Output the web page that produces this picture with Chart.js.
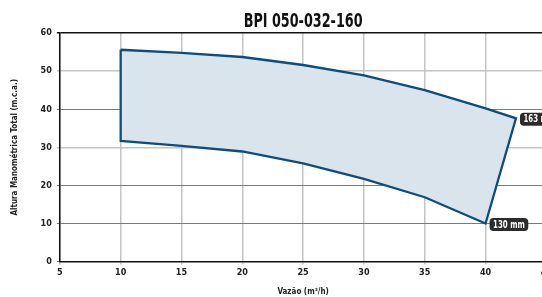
<!DOCTYPE html>
<html>
<head>
<meta charset="utf-8">
<script src="https://cdn.jsdelivr.net/npm/chart.js@4"></script>
<style>
  html, body { margin: 0; padding: 0; background: #fff; overflow: hidden; }
  #wrap { width: 555px; height: 297px; }
</style>
</head>
<body>
<div id="wrap"><canvas id="pump-chart"></canvas></div>
<script>
// Pump operating range, BPI 050-032-160
const chartTitle = 'BPI 050-032-160';
const impellers = ['163 mm', '130 mm'];
const flowUpper = [10, 15, 20, 25, 30, 35, 40, 42.5];
const headUpper = [55.6, 54.8, 53.7, 51.6, 48.9, 45.0, 40.2, 37.6];
const flowLower = [10, 15, 20, 25, 30, 35, 40];
const headLower = [31.7, 30.4, 28.9, 25.8, 21.7, 16.9, 10.0];
const xTicks = [5, 10, 15, 20, 25, 30, 35, 40, 45];
const yTicks = [0, 10, 20, 30, 40, 50, 60];

// closed outline: big impeller left->right, then small impeller right->left
const outline = [];
flowUpper.forEach((x, i) => outline.push({ x: x, y: headUpper[i] }));
for (let i = flowLower.length - 1; i >= 0; i--) {
  outline.push({ x: flowLower[i], y: headLower[i] });
}
outline.push({ x: flowUpper[0], y: headUpper[0] });

const font = 'DejaVu Sans Condensed, DejaVu Sans, sans-serif';

// narrow title, drawn squeezed since no narrow bold face is installed
const titlePlugin = {
  id: 'narrowTitle',
  afterDraw(chart) {
    const ctx = chart.ctx;
    const cx = (chart.chartArea.left + chart.chartArea.right) / 2;
    ctx.save();
    ctx.font = 'bold 20px ' + font;
    ctx.fillStyle = '#111';
    ctx.textAlign = 'center';
    ctx.textBaseline = 'alphabetic';
    ctx.translate(cx, 26.5);
    ctx.scale(0.71, 1);
    ctx.fillText(chartTitle, 0, 0);
    ctx.restore();
  }
};

// dark tag next to the end point of each impeller curve
const tagPlugin = {
  id: 'tags',
  afterDatasetsDraw(chart) {
    const ctx = chart.ctx;
    const xs = chart.scales.x, ys = chart.scales.y;
    const ends = [
      { x: flowUpper[flowUpper.length - 1], y: headUpper[headUpper.length - 1] },
      { x: flowLower[flowLower.length - 1], y: headLower[headLower.length - 1] }
    ];
    const sx = 0.78;
    ctx.save();
    ctx.font = 'bold 10px ' + font;
    ctx.textBaseline = 'middle';
    ends.forEach((p, i) => {
      const px = xs.getPixelForValue(p.x) + 4;
      const py = ys.getPixelForValue(p.y) + 1;
      const w = ctx.measureText(impellers[i]).width * sx + 7;
      const h = 13;
      ctx.fillStyle = '#2b2b2b';
      ctx.beginPath();
      ctx.roundRect(px, py - h / 2, w, h, 4);
      ctx.fill();
      ctx.save();
      ctx.translate(px + 3.5, py + 0.5);
      ctx.scale(sx, 1);
      ctx.fillStyle = '#fff';
      ctx.fillText(impellers[i], 0, 0);
      ctx.restore();
    });
    ctx.restore();
  }
};

new Chart(document.getElementById('pump-chart'), {
  type: 'scatter',
  data: {
    datasets: [{
      data: outline,
      showLine: true,
      fill: 'shape',
      borderColor: '#0c4d7c',
      backgroundColor: '#d9e4ec',
      borderWidth: 2.3,
      pointRadius: 0,
      tension: 0
    }]
  },
  options: {
    responsive: true,
    maintainAspectRatio: false,
    animation: false,
    layout: { padding: { top: 33, right: 4, left: 6 } },
    plugins: {
      legend: { display: false },
      tooltip: { enabled: false },
      title: { display: false }
    },
    scales: {
      x: {
        type: 'linear',
        min: 5,
        max: 45,
        afterBuildTicks: axis => { axis.ticks = xTicks.map(v => ({ value: v })); },
        ticks: { color: '#222', font: { family: font, size: 9, weight: 'bold' }, padding: 3 },
        grid: { color: '#c4c4c4', lineWidth: 1.5, tickLength: 3 },
        border: { color: '#111', width: 1.5 },
        title: {
          display: true,
          text: 'Vazão (m³/h)',
          color: '#222',
          font: { family: font, size: 8, weight: 'bold' },
          padding: { top: 6, bottom: 0 }
        }
      },
      y: {
        min: 0,
        max: 60,
        afterBuildTicks: axis => { axis.ticks = yTicks.map(v => ({ value: v })); },
        ticks: { color: '#222', font: { family: font, size: 9, weight: 'bold' }, padding: 5 },
        grid: {
          color: c => (c.tick && c.tick.value === 60) ? '#111' :
                      (c.tick && (c.tick.value === 50 || c.tick.value === 30)) ? '#c4c4c4' : '#7a7a7a',
          lineWidth: c => (c.tick && c.tick.value === 60) ? 1.5 :
                          (c.tick && (c.tick.value === 50 || c.tick.value === 30)) ? 1.5 : 1,
          tickLength: 3
        },
        border: { color: '#111', width: 1.5 },
        title: {
          display: true,
          text: 'Altura Manométrica Total (m.c.a.)',
          color: '#222',
          font: { family: font, size: 8, weight: 'bold' },
          padding: { bottom: 16 }
        }
      }
    }
  },
  plugins: [tagPlugin, titlePlugin]
});
</script>
</body>
</html>
